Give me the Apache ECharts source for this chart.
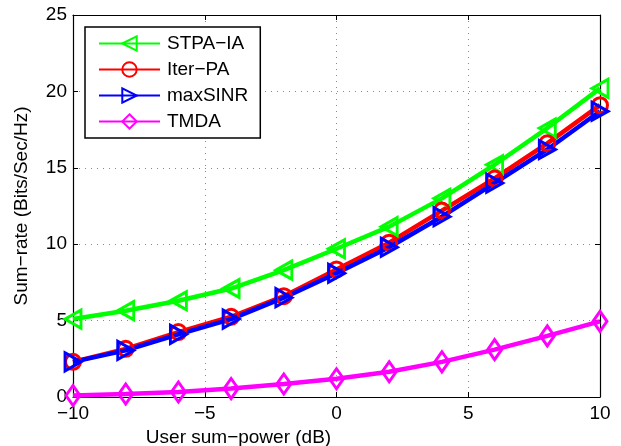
<!DOCTYPE html>
<html><head><meta charset="utf-8">
<script src="https://cdn.jsdelivr.net/npm/echarts@6/dist/echarts.min.js"></script>
<style>html,body{margin:0;padding:0;background:#fff}#c{width:621px;height:446px}</style>
</head><body><div id="c"></div>
<script>
const xValues = [-10, -8, -6, -4, -2, 0, 2, 4, 6, 8, 10];
const stpaIA = [5.1, 5.65, 6.3, 7.1, 8.3, 9.7, 11.15, 13.0, 15.2, 17.6, 20.2];
const iterPA = [2.3, 3.15, 4.25, 5.25, 6.6, 8.35, 10.1, 12.2, 14.3, 16.6, 19.1];
const maxSINR = [2.3, 3.05, 4.1, 5.1, 6.5, 8.1, 9.8, 11.8, 14.0, 16.2, 18.7];
const tmda = [0.1, 0.2, 0.33, 0.55, 0.85, 1.2, 1.65, 2.3, 3.1, 4.0, 4.95];
const seriesNames = ['STPA\u2212IA', 'Iter\u2212PA', 'maxSINR', 'TMDA'];
const xTicks = [-10, -5, 0, 5, 10];
const yTicks = [0, 5, 10, 15, 20, 25];

const font = 'Liberation Sans, Arial, Helvetica, sans-serif';
const pair = (ys) => xValues.map((x, i) => [x, ys[i]]);
function mk(name, ys, color, symbol, size, rot) {
  return {
    name, type: 'line', data: pair(ys), symbol, symbolSize: size, symbolRotate: rot,
    lineStyle: { color, width: 4.5 },
    itemStyle: { color: 'rgba(0,0,0,0)', borderColor: color, borderWidth: 3 },
    emphasis: { disabled: true }, z: 3
  };
}
const fmtMinus = v => (v < 0 ? '\u2212' + Math.abs(v) : String(v));
const chart = echarts.init(document.getElementById('c'));
chart.setOption({
  animation: false,
  textStyle: { fontFamily: font },
  grid: { left: 73, right: 21, top: 15, bottom: 49, show: false, outerBoundsMode: 'none', containLabel: false },
  legend: {
    left: 85, top: 27, orient: 'vertical',
    data: seriesNames,
    itemWidth: 61, itemHeight: 18, itemGap: 7,
    padding: [7, 12, 7, 13],
    borderColor: '#000', borderWidth: 1.5, backgroundColor: '#fff',
    textStyle: { fontSize: 19, color: '#000', fontFamily: font, padding: [0, 0, 0, 2] },
    symbolRotate: 'inherit'
  },
  xAxis: [{
    type: 'value', min: -10, max: 10, interval: 5,
    name: 'User sum\u2212power (dB)', nameLocation: 'middle', nameGap: 21,
    nameTextStyle: { fontSize: 19, color: '#000', padding: [0, 196, 0, 0] },
    axisLine: { show: true, onZero: false, lineStyle: { color: '#000', width: 1.2 } },
    axisTick: { show: true, inside: true, length: 5, lineStyle: { color: '#000' } },
    axisLabel: { fontSize: 19, color: '#000', margin: 7, formatter: fmtMinus },
    splitLine: { show: true, lineStyle: { color: '#888', type: [1, 5], width: 1 } }
  }, {
    type: 'value', min: -10, max: 10, interval: 5, position: 'top',
    axisLine: { show: true, onZero: false, lineStyle: { color: '#000', width: 1.2 } },
    axisTick: { show: true, inside: true, length: 5, lineStyle: { color: '#000' } },
    axisLabel: { show: false }, splitLine: { show: false }
  }],
  yAxis: [{
    type: 'value', min: 0, max: 25, interval: 5,
    name: 'Sum\u2212rate (Bits/Sec/Hz)', nameLocation: 'middle', nameGap: 42,
    nameTextStyle: { fontSize: 19, color: '#000' },
    axisLine: { show: true, onZero: false, lineStyle: { color: '#000', width: 1.2 } },
    axisTick: { show: true, inside: true, length: 5, lineStyle: { color: '#000' } },
    axisLabel: { fontSize: 19, color: '#000', margin: 6 },
    splitLine: { show: true, lineStyle: { color: '#888', type: [1, 5], width: 1 } }
  }, {
    type: 'value', min: 0, max: 25, interval: 5, position: 'right',
    axisLine: { show: true, onZero: false, lineStyle: { color: '#000', width: 1.2 } },
    axisTick: { show: true, inside: true, length: 5, lineStyle: { color: '#000' } },
    axisLabel: { show: false }, splitLine: { show: false }
  }],
  series: [
    mk(seriesNames[0], stpaIA, '#00ff00', 'triangle', [18, 16], 90),
    mk(seriesNames[1], iterPA, '#ff0000', 'circle', 15, 0),
    mk(seriesNames[2], maxSINR, '#0000ff', 'triangle', [18, 16], -90),
    mk(seriesNames[3], tmda, '#ff00ff', 'diamond', [14, 20], 0)
  ]
});
</script></body></html>
